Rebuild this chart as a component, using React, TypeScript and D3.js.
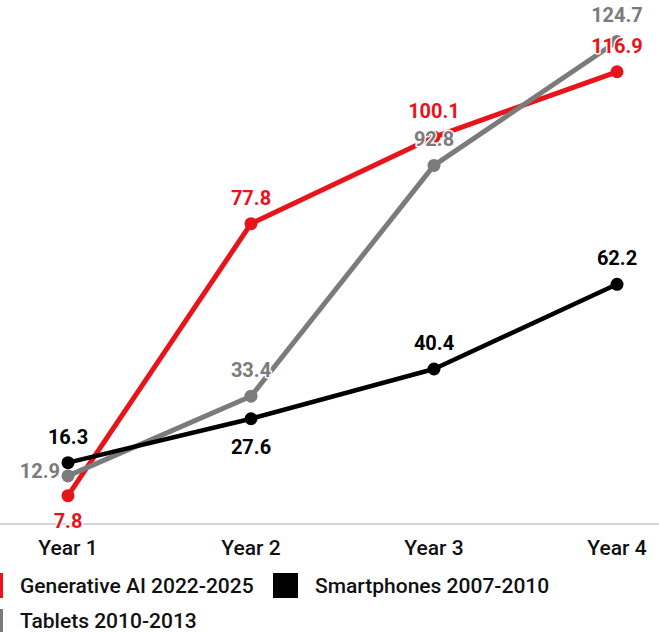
import React from "react";
import * as d3 from "d3";

const years = ["Year 1", "Year 2", "Year 3", "Year 4"];
const genAI = [7.8, 77.8, 100.1, 116.9];
const smartphones = [16.3, 27.6, 40.4, 62.2];
const tablets = [12.9, 33.4, 92.8, 124.7];

const seriesNames = ["Generative AI 2022-2025", "Smartphones 2007-2010", "Tablets 2010-2013"];

// label placement per point: "above" | "below" | "left"
const genAIPos = ["below", "above", "above", "above"];
const smartPos = ["above", "below", "above", "above"];
const tabletPos = ["left", "above", "above", "above"];

const W = 659;
const H = 632;
const RED = "#e8141c";
const GRAY = "#7b7b7b";
const BLACK = "#000000";
const FONT = "Roboto, 'Noto Sans', sans-serif";

export default function App() {
  const x = d3.scalePoint<string>().domain(years).range([68, 617]);
  const y = d3.scaleLinear().domain([0, 125]).range([526, 40.3]);

  const series = [
    { name: seriesNames[0], values: genAI, color: RED, pos: genAIPos, width: 5 },
    { name: seriesNames[2], values: tablets, color: GRAY, pos: tabletPos, width: 5 },
    { name: seriesNames[1], values: smartphones, color: BLACK, pos: smartPos, width: 4.5 },
  ];

  const line = d3
    .line<number>()
    .x((_, i) => x(years[i]) as number)
    .y((d) => y(d));

  const labels: React.ReactNode[] = [];
  series.forEach((s, si) => {
    s.values.forEach((v, i) => {
      const px = x(years[i]) as number;
      const py = y(v);
      const p = s.pos[i];
      let tx = px;
      let ty = py - 19;
      let anchor: "middle" | "end" = "middle";
      if (p === "below") ty = py + (s.color === RED ? 32 : 35);
      if (p === "left") {
        tx = px - 8;
        ty = py + 2;
        anchor = "end";
      }
      labels.push(
        <text
          key={`${si}-${i}`}
          x={tx}
          y={ty}
          textAnchor={anchor}
          fill={s.color}
          stroke="#fff"
          strokeWidth={3}
          strokeLinejoin="round"
          style={{ paintOrder: "stroke" }}
          fontFamily={FONT}
          fontWeight={700}
          fontSize={20}
        >
          {v.toFixed(1)}
        </text>
      );
    });
  });

  return (
    <svg
      width={W}
      height={H}
      style={{ position: "absolute", left: 0, top: 0, background: "#fff" }}
    >
      <line x1={0} x2={W} y1={524} y2={524} stroke="#d4d4d4" strokeWidth={2} />
      {series.map((s) => (
        <g key={s.name}>
          <path d={line(s.values) || ""} fill="none" stroke={s.color} strokeWidth={s.width} strokeLinejoin="round" />
          {s.values.map((v, i) => (
            <circle key={i} cx={x(years[i]) as number} cy={y(v)} r={6.5} fill={s.color} />
          ))}
        </g>
      ))}
      {labels}
      {years.map((yr) => (
        <text
          key={yr}
          x={x(yr) as number}
          y={555}
          textAnchor="middle"
          fontFamily={FONT}
          fontWeight={500}
          fontSize={21}
          fill="#111"
        >
          {yr}
        </text>
      ))}
      {/* legend */}
      <rect x={-21} y={573} width={24} height={25} fill={RED} />
      <text x={20} y={593} fontFamily={FONT} fontWeight={500} fontSize={21} fill="#111">
        {seriesNames[0]}
      </text>
      <rect x={273} y={573} width={25} height={25} fill={BLACK} />
      <text x={315} y={593} fontFamily={FONT} fontWeight={500} fontSize={21} fill="#111">
        {seriesNames[1]}
      </text>
      <rect x={-21} y={609} width={24} height={25} fill={GRAY} />
      <text x={20} y={628} fontFamily={FONT} fontWeight={500} fontSize={21} fill="#111">
        {seriesNames[2]}
      </text>
    </svg>
  );
}
